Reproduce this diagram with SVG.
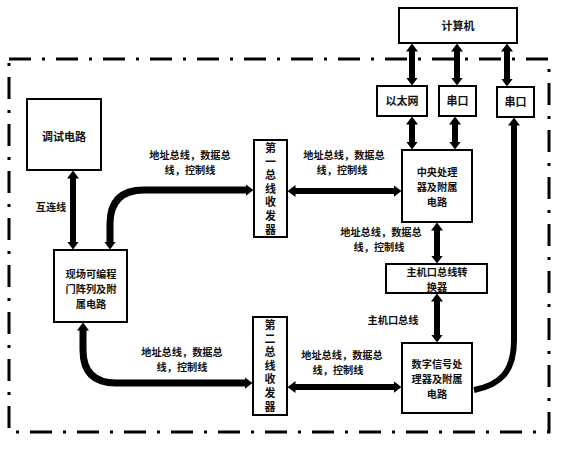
<svg xmlns="http://www.w3.org/2000/svg" width="563" height="450" viewBox="0 0 563 450">
<style>
.box{fill:#fff;stroke:#000;stroke-width:2}
.t{font-family:"Noto Sans CJK SC","Noto Sans",sans-serif;font-weight:bold;font-size:11px;fill:#111;text-anchor:middle}
.m{font-family:"Noto Sans CJK SC","Noto Sans",sans-serif;font-weight:bold;font-size:10.2px;fill:#111;text-anchor:middle}
.v{font-family:"Noto Sans CJK SC","Noto Sans",sans-serif;font-weight:bold;font-size:11px;fill:#111;text-anchor:middle;writing-mode:vertical-rl;letter-spacing:2.6px}
.l{font-family:"Noto Sans CJK SC","Noto Sans",sans-serif;font-weight:bold;font-size:10.2px;fill:#111;text-anchor:middle}
.c{fill:none;stroke:#000;stroke-width:6}
.cb{fill:none;stroke:#000;stroke-width:7}
.d{marker-start:url(#ah);marker-end:url(#ah)}
</style>
<defs>
<marker id="ah" viewBox="0 0 8 12" refX="0.5" refY="6" markerWidth="8" markerHeight="12" markerUnits="userSpaceOnUse" orient="auto-start-reverse">
<path d="M0,0 L8,6 L0,12 Z" fill="#000"/>
</marker>
</defs>
<rect x="0" y="0" width="563" height="450" fill="#fff"/>
<rect id="border" x="9" y="59" width="540" height="373" fill="none" stroke="#000" stroke-width="3" stroke-dasharray="22 11 3 11"/>

<g id="connectors">
<path class="c d" d="M412,51 L412,78"/>
<path class="c d" d="M457,51 L457,78"/>
<path class="c d" d="M507,51 L507,79"/>
<path class="c d" d="M412,124 L412,142"/>
<path class="c d" d="M455,124 L455,142"/>
<path class="c" style="marker-start:url(#ah)" d="M514,125 L514,340 C514,372 500,385 474,390"/>
<path class="c d" d="M73,178 L73,242"/>
<path class="cb d" d="M110,242 L110,224 Q110,190 144,190 L246,190"/>
<path class="cb d" d="M83,330 L83,350 Q83,383 116,383 L245,383"/>
<path class="c d" d="M295,191 L394,191"/>
<path class="c d" d="M295,387 L394,387"/>
<path class="c d" d="M437,230 L437,256"/>
<path class="c d" d="M437,301 L437,335"/>
</g>

<g id="computer"><rect class="box" x="399" y="8" width="118" height="35"/><text class="t" x="458" y="30">计算机</text></g>
<g id="ethernet"><rect class="box" x="377" y="86" width="50" height="30"/><text class="t" x="402" y="105">以太网</text></g>
<g id="serial1"><rect class="box" x="439" y="86" width="37" height="30"/><text class="t" x="457.5" y="105">串口</text></g>
<g id="serial2"><rect class="box" x="497" y="87" width="37" height="30"/><text class="t" x="515.5" y="106">串口</text></g>
<g id="debug"><rect class="box" x="27" y="99" width="74" height="71"/><text class="t" x="64" y="141">调试电路</text></g>
<g id="fpga"><rect class="box" x="54" y="250" width="73" height="72"/>
<text class="m" x="91" y="278">现场可编程<tspan x="91" dy="15">门阵列及附</tspan><tspan x="91" dy="15">属电路</tspan></text></g>
<g id="trans1"><rect class="box" x="254" y="140" width="33" height="97"/>
<text class="v" x="270.5" y="190">第一总线收发器</text></g>
<g id="trans2"><rect class="box" x="253" y="317" width="34" height="98"/>
<text class="v" x="270" y="367">第二总线收发器</text></g>
<g id="cpu"><rect class="box" x="402" y="150" width="70" height="72"/>
<text class="m" x="437" y="176">中央处理<tspan x="437" dy="15">器及附属</tspan><tspan x="437" dy="15">电路</tspan></text></g>
<g id="hostbus"><rect class="box" x="386" y="264" width="101" height="29"/>
<text class="m" x="437" y="276">主机口总线转<tspan x="437" dy="15">换器</tspan></text></g>
<g id="dsp"><rect class="box" x="402" y="343" width="70" height="70"/>
<text class="m" x="437" y="368">数字信号处<tspan x="437" dy="15">理器及附属</tspan><tspan x="437" dy="15">电路</tspan></text></g>

<g id="labels">
<text class="l" x="51" y="211">互连线</text>
<text class="l" x="190" y="159">地址总线，数据总<tspan x="190" dy="15">线，控制线</tspan></text>
<text class="l" x="344" y="159">地址总线，数据总<tspan x="342" dy="15">线，控制线</tspan></text>
<text class="l" x="381" y="236">地址总线，数据总<tspan x="379" dy="15">线，控制线</tspan></text>
<text class="l" x="393" y="324">主机口总线</text>
<text class="l" x="182" y="356">地址总线，数据总<tspan x="182" dy="15">线，控制线</tspan></text>
<text class="l" x="342" y="359">地址总线，数据总<tspan x="338" dy="15">线，控制线</tspan></text>
</g>
</svg>
